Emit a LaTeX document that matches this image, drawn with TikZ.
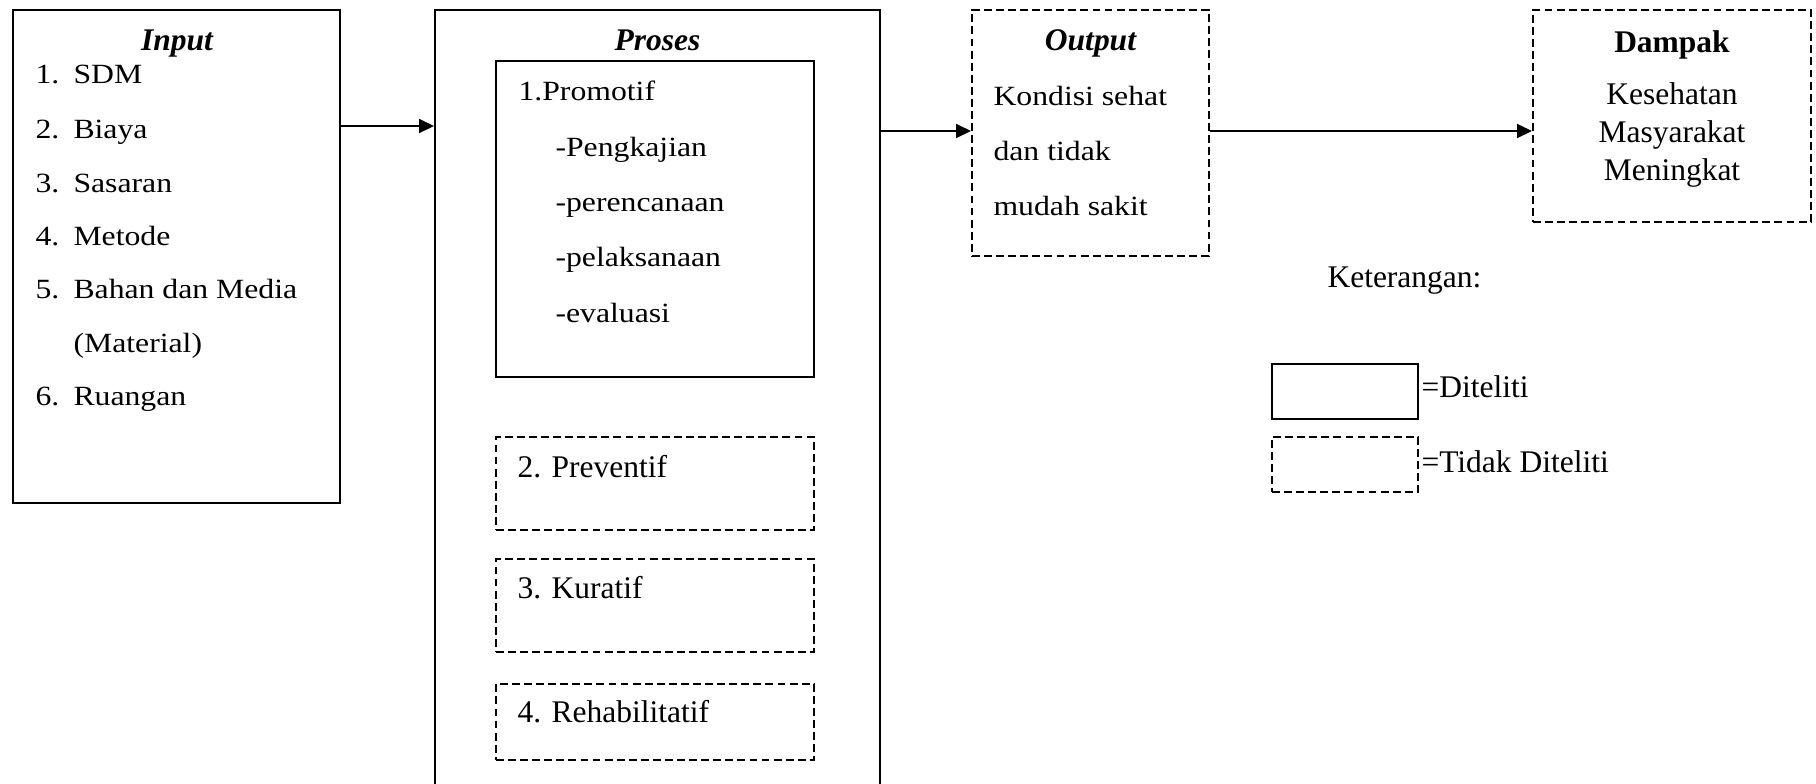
\documentclass[tikz,border=0pt]{standalone}
\usepackage{fontspec}
\setmainfont{Liberation Serif}
\newfontfamily\wide{Liberation Serif}[FakeStretch=1.14]
\usetikzlibrary{fit,arrows.meta}
\begin{document}
\begin{tikzpicture}[x=0.381pt,y=-0.381pt,
  solidbox/.style={draw, line width=0.75pt, inner sep=0pt},
  dashbox/.style={draw, line width=0.75pt, dash pattern=on 3pt off 1.6pt, inner sep=0pt},
  txt/.style={inner sep=0pt, anchor=base west, font=\fontsize{12}{14}\selectfont},
  ctxt/.style={inner sep=0pt, anchor=base, font=\fontsize{12}{14}\selectfont},
  wtxt/.style={inner sep=0pt, anchor=base west, font=\wide\fontsize{10.6}{12}\selectfont},
  ttl/.style={inner sep=0pt, anchor=base, font=\fontsize{12}{14}\selectfont\bfseries\itshape},
  arr/.style={line width=0.75pt, -{Triangle[length=5.7pt,width=5.3pt]}}]
\useasboundingbox (0,0) rectangle (1816,783);
\clip (0,0) rectangle (1816,783);

% Input
\node[solidbox, fit={(13,10)(340,503)}] (inbox) {};
\node[ttl] (intitle) at (177,50) {Input};
\node[wtxt] (n1) at (35,83) {1.};  \node[wtxt] (i1) at (73,83) {SDM};
\node[wtxt] (n2) at (35,138) {2.}; \node[wtxt] (i2) at (73,138) {Biaya};
\node[wtxt] (n3) at (35,192) {3.}; \node[wtxt] (i3) at (73,192) {Sasaran};
\node[wtxt] (n4) at (35,245) {4.}; \node[wtxt] (i4) at (73,245) {Metode};
\node[wtxt] (n5) at (35,298) {5.}; \node[wtxt] (i5) at (73,298) {Bahan dan Media};
\node[wtxt] (i5b) at (73,352) {(Material)};
\node[wtxt] (n6) at (35,405) {6.}; \node[wtxt] (i6) at (73,405) {Ruangan};

% Proses
\node[solidbox, fit={(435,10)(880,830)}] (proses) {};
\node[ttl] (protitle) at (657.5,50) {Proses};
\node[solidbox, fit={(496,61)(814,377)}] (promo) {};
\node[wtxt] (p0) at (518,100) {1.Promotif};
\node[wtxt] (p1) at (555,156) {-Pengkajian};
\node[wtxt] (p2) at (555,211) {-perencanaan};
\node[wtxt] (p3) at (555,266) {-pelaksanaan};
\node[wtxt] (p4) at (555,322) {-evaluasi};
\node[dashbox, fit={(496,437)(814,530)}] (prev) {};
\node[txt] (prevt) at (517,477) {2. Preventif};
\node[dashbox, fit={(496,559)(814,652)}] (kur) {};
\node[txt] (kurt) at (517,598) {3. Kuratif};
\node[dashbox, fit={(496,684)(814,760)}] (reh) {};
\node[txt] (reht) at (517,722) {4. Rehabilitatif};

% Output
\node[dashbox, fit={(972,10)(1209,256)}] (outbox) {};
\node[ttl] (outtitle) at (1090.5,50) {Output};
\node[wtxt] (o1) at (993,105) {Kondisi sehat};
\node[wtxt] (o2) at (993,160) {dan tidak};
\node[wtxt] (o3) at (993,215) {mudah sakit};

% Dampak
\node[dashbox, fit={(1533,10)(1811,222)}] (dampak) {};
\node[ctxt, font=\fontsize{12}{14}\selectfont\bfseries] (dtitle) at (1672,52) {Dampak};
\node[ctxt] (d1) at (1672,104) {Kesehatan};
\node[ctxt] (d2) at (1672,142) {Masyarakat};
\node[ctxt] (d3) at (1672,180) {Meningkat};

% Legend
\node[txt] (ket) at (1327,287) {Keterangan:};
\node[solidbox, fit={(1272,364)(1418,419)}] (lsolid) {};
\node[txt] (lsolidt) at (1421,397) {=Diteliti};
\node[dashbox, fit={(1272,437)(1418,492)}] (ldash) {};
\node[txt] (ldasht) at (1421,472) {=Tidak Diteliti};

% Connectors
\coordinate (r1) at (0,126);
\coordinate (r2) at (0,131);
\draw[arr] (inbox.east |- r1) -- (proses.west |- r1);
\draw[arr] (proses.east |- r2) -- (outbox.west |- r2);
\draw[arr] (outbox.east |- r2) -- (dampak.west |- r2);
\end{tikzpicture}
\end{document}
